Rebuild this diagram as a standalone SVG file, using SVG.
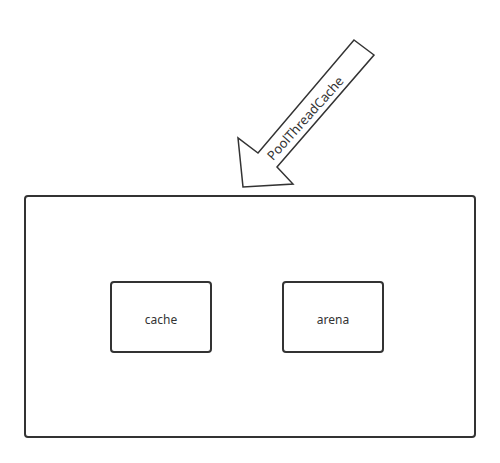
<svg xmlns="http://www.w3.org/2000/svg" width="500" height="463" viewBox="0 0 500 463">
<style>
.box{fill:#fff;stroke:#333;stroke-width:2}
.lbl{font-family:"Noto Sans","Open Sans",sans-serif;font-size:12px;fill:#333;text-anchor:middle;dominant-baseline:central}
.arr{font-size:13px}
</style>
<rect width="500" height="463" fill="#fff"/>
<g id="container"><rect class="box" x="25" y="196" width="450" height="241" rx="3"/></g>
<g id="cache"><rect class="box" x="111" y="282" width="100" height="70" rx="3"/><text class="lbl" x="161" y="319">cache</text></g>
<g id="arena"><rect class="box" x="283" y="282" width="100" height="70" rx="3"/><text class="lbl" x="333" y="319">arena</text></g>
<g id="connectors">
<g id="poolthreadcache-arrow">
<polygon points="354,40 374,55 277,167 293,184 243,187 238,138 258,153" fill="#fff" stroke="#333" stroke-width="1.5" stroke-linejoin="miter"/>
<text class="lbl arr" x="0" y="0" transform="translate(305,118) rotate(-48)">PoolThreadCache</text>
</g>
</g>
</svg>
